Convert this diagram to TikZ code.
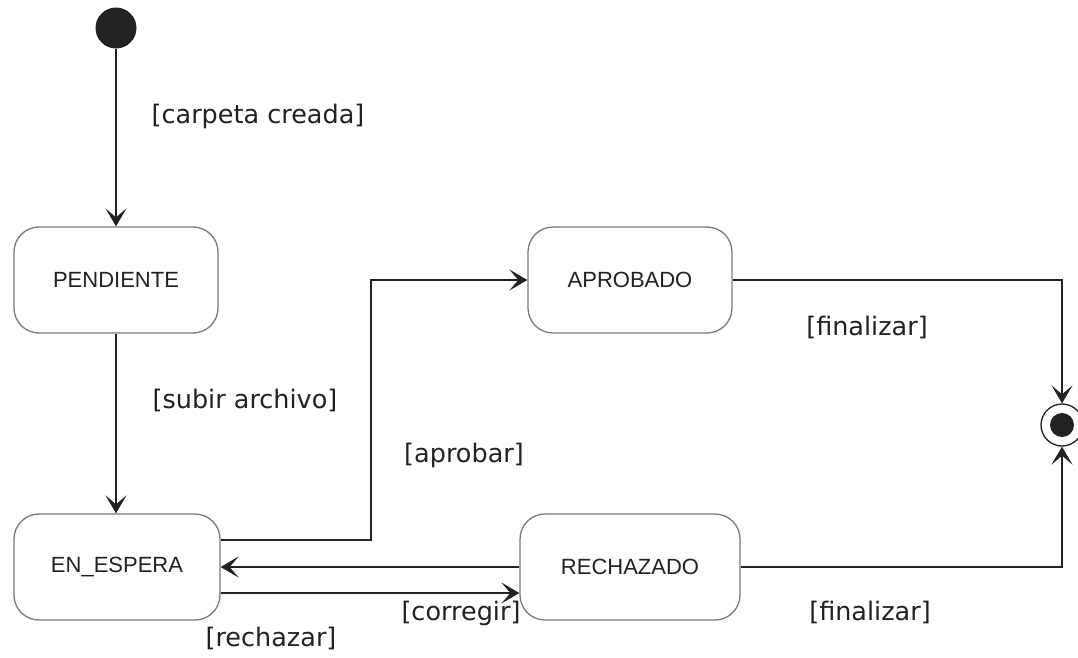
\documentclass[tikz,border=0pt]{standalone}
\usepackage{fontspec}
\setmainfont{DejaVu Sans}
\newfontfamily\boxfont{Liberation Sans}
\usetikzlibrary{arrows.meta}
\definecolor{ink}{HTML}{222222}
\definecolor{edge}{HTML}{7A7A7A}
\begin{document}
\begin{tikzpicture}[x=1pt,y=-1pt,
  statebox/.style={draw=edge, line width=1.3pt, rounded corners=25pt, fill=white,
    minimum height=106pt, inner sep=0pt, text=ink, font=\boxfont\fontsize{22}{26}\selectfont},
  arr/.style={draw=ink, line width=1.8pt, -{Stealth[length=18pt,width=21pt,inset=9pt]}},
  lbl/.style={text=ink, font=\fontsize{25.5}{30}\selectfont, inner sep=0pt}]
\useasboundingbox (0,0) rectangle (1078,657);
\fill[white] (0,0) rectangle (1078,657);
\node[circle, fill=ink, minimum size=41pt, inner sep=0pt] (init) at (116,28) {};
\node[statebox, minimum width=204pt] (pend) at (116,280) {PENDIENTE};
\node[statebox, minimum width=206pt] (esp) at (117,567) {EN\_ESPERA};
\node[statebox, minimum width=204pt] (apr) at (630,280) {APROBADO};
\node[statebox, minimum width=220pt] (rech) at (630,567) {RECHAZADO};
\node[circle, draw=ink, line width=1.3pt, minimum size=42pt, inner sep=0pt] (fin) at (1062,425) {};
\fill[ink] (fin.center) circle (12pt);

\draw[arr] (init) -- (pend);
\draw[arr] (pend) -- (pend |- esp.north);
\draw[arr] ([yshift=27pt]esp.east) -- ++(150,0) |- (apr.west);
\draw[arr] (rech.west) -- (esp.east);
\draw[arr] ([yshift=-26pt]esp.east) -- ([yshift=-26pt]esp.east -| rech.west);
\draw[arr] (apr.east) -| (fin.north);
\draw[arr] (rech.east) -| (fin.south);

\node[lbl] (l1) at (258,116) {[carpeta creada]};
\node[lbl] (l2) at (245,400) {[subir archivo]};
\node[lbl] (l3) at (464,455) {[aprobar]};
\node[lbl] (l4) at (867,327) {[finalizar]};
\node[lbl] (l5) at (461,613) {[corregir]};
\node[lbl] (l6) at (271,638) {[rechazar]};
\node[lbl] (l7) at (870,612) {[finalizar]};
\end{tikzpicture}
\end{document}
